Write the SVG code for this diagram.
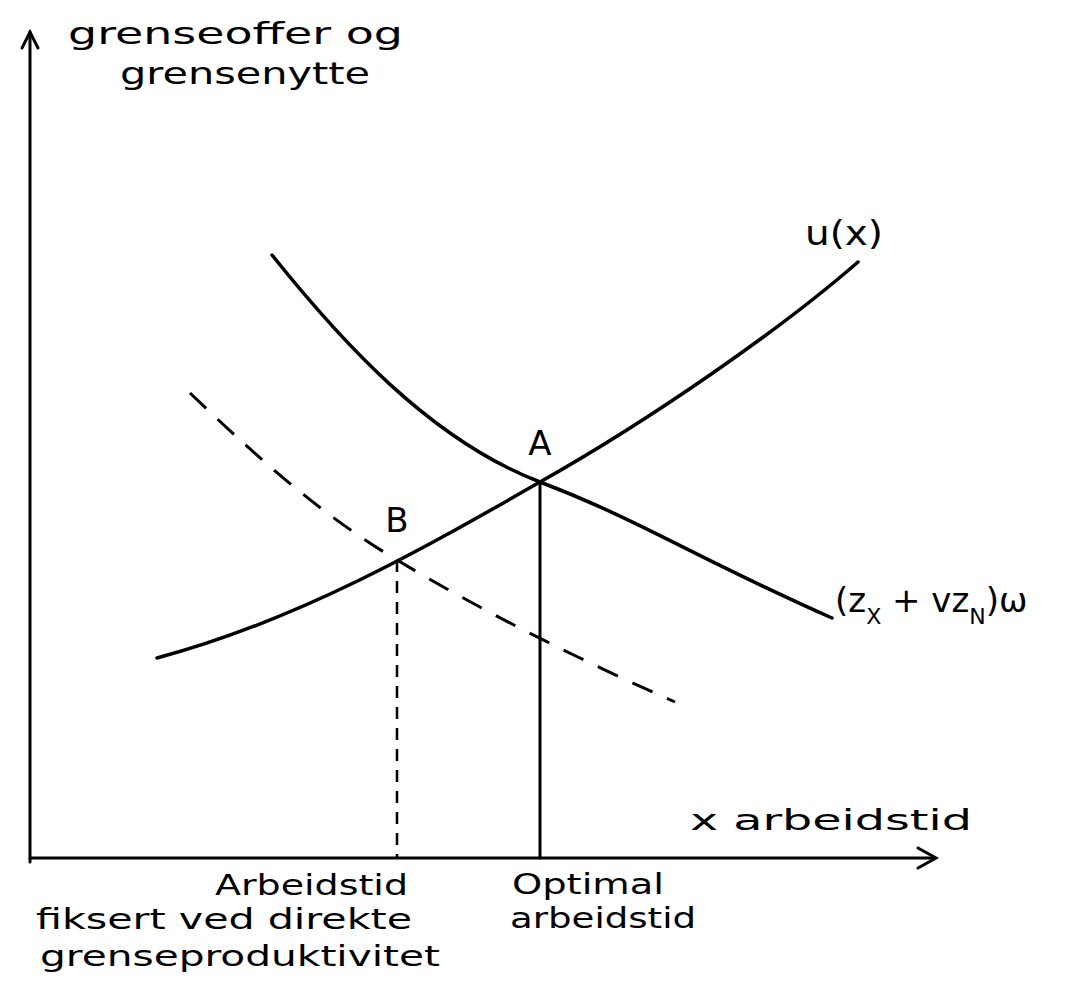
<svg xmlns="http://www.w3.org/2000/svg" width="1073" height="1001" viewBox="0 0 1073 1001">
<style>
.ax{fill:none;stroke:#000;stroke-width:3;stroke-linecap:round}
.cv{fill:none;stroke:#000;stroke-width:3.5;stroke-linecap:round}
.ds{fill:none;stroke:#000;stroke-width:3;stroke-dasharray:22 16}
.vd{fill:none;stroke:#000;stroke-width:2.5;stroke-dasharray:12 9}
text{font-family:"DejaVu Sans","Liberation Sans",sans-serif;fill:#000}
.lb{font-size:28px}
.big{font-size:34px}
.top{font-size:30px}
</style>
<rect width="1073" height="1001" fill="#fff"/>
<g id="axes">
<path class="ax" d="M30,862 L30,32"/>
<path class="ax" d="M22,48 L30,32 L38,48"/>
<path class="ax" d="M30,858 L935,858"/>
<path class="ax" d="M918,848 L936,858 L918,868"/>
</g>
<g id="connectors">
<path class="cv" d="M157,658 C300,620 430,545 540,482 C650,420 780,330 858,262"/>
<path class="cv" d="M272,255 C340,340 430,440 540,482 C640,520 700,560 832,618"/>
<path class="ds" d="M190,393 C270,470 330,520 397,560 C480,610 580,660 675,702"/>
<path class="ax" d="M540,482 L540,858"/>
<path class="vd" d="M397,560 L397,858"/>
</g>
<g id="labels">
<text class="top" x="68" y="44" textLength="335" lengthAdjust="spacingAndGlyphs">grenseoffer og</text>
<text class="top" x="120" y="84" textLength="250" lengthAdjust="spacingAndGlyphs">grensenytte</text>
<text class="big" x="805" y="245" textLength="78" lengthAdjust="spacingAndGlyphs">u(x)</text>
<text class="big" x="835" y="612">(z<tspan font-size="22" dy="12">X</tspan><tspan dy="-12"> + vz</tspan><tspan font-size="22" dy="12">N</tspan><tspan dy="-12">)ω</tspan></text>
<text class="big" x="540" y="455" text-anchor="middle">A</text>
<text class="big" x="397" y="532" text-anchor="middle">B</text>
<text class="lb" x="690" y="830" textLength="282" lengthAdjust="spacingAndGlyphs">x  arbeidstid</text>
<text class="lb" x="215" y="895" textLength="193" lengthAdjust="spacingAndGlyphs">Arbeidstid</text>
<text class="lb" x="36" y="929" textLength="376" lengthAdjust="spacingAndGlyphs">fiksert ved direkte</text>
<text class="lb" x="40" y="966" textLength="400" lengthAdjust="spacingAndGlyphs">grenseproduktivitet</text>
<text class="lb" x="512" y="894" textLength="152" lengthAdjust="spacingAndGlyphs">Optimal</text>
<text class="lb" x="510" y="928" textLength="186" lengthAdjust="spacingAndGlyphs">arbeidstid</text>
</g>
</svg>
